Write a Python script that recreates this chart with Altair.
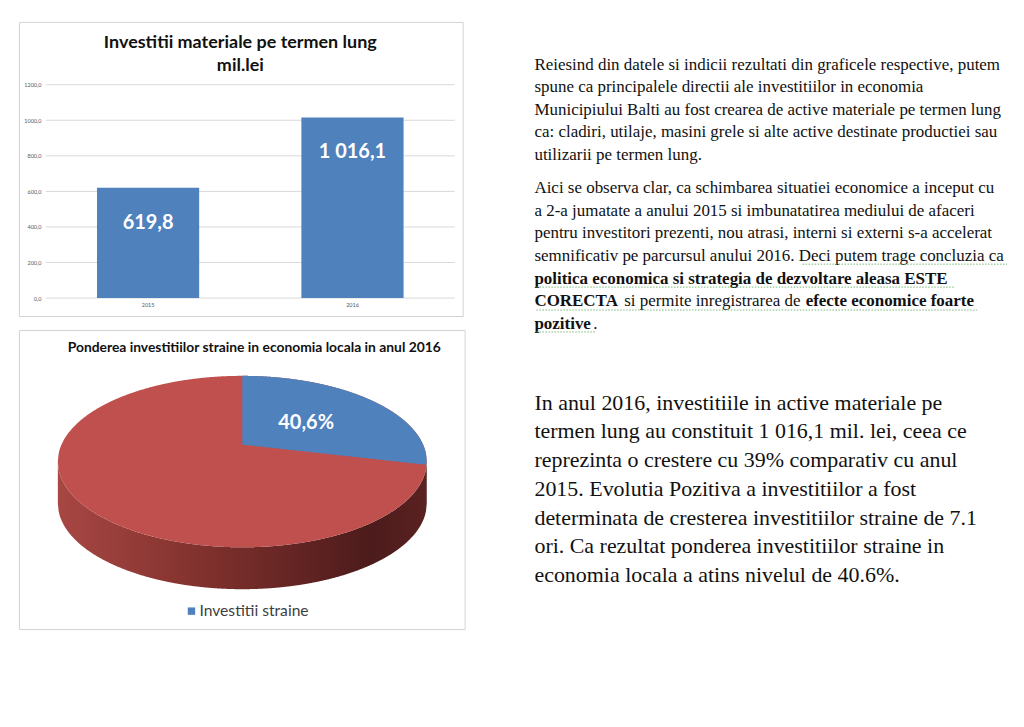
import math
import altair as alt
import pandas as pd

# ---------------- data ----------------
years = ["2015", "2016"]
invest_values = [619.8, 1016.1]
invest_labels = ["619,8", "1 016,1"]
y_ticks = [0, 200, 400, 600, 800, 1000, 1200]
bar_title = ["Investitii materiale pe termen lung", "mil.lei"]

pie_title = "Ponderea investitiilor straine in economia locala in anul 2016"
legend_labels = ["Investitii straine"]
pie_value_label = "40,6%"
# share of the disc that each slice occupies as drawn in the picture (blue, red)
pie_drawn_share = [25.6, 74.4]

para1 = [
    "Reiesind din datele si indicii rezultati din graficele respective, putem",
    "spune ca principalele directii ale investitiilor in economia",
    "Municipiului Balti au fost crearea de active materiale pe termen lung",
    "ca: cladiri, utilaje, masini grele si alte active destinate productiei sau",
    "utilizarii pe termen lung.",
]
para2 = [
    "Aici se observa clar, ca schimbarea situatiei economice a inceput cu",
    "a 2-a jumatate a anului 2015 si imbunatatirea mediului de afaceri",
    "pentru investitori prezenti, nou atrasi, interni si externi  s-a accelerat",
    "semnificativ pe parcursul anului 2016. Deci putem trage concluzia ca",
]
para2_bold_line = "politica economica si strategia de dezvoltare aleasa ESTE"
para2_line6 = ["CORECTA", "si permite inregistrarea de", "efecte economice foarte"]
para2_line7 = ["pozitive", "."]
para3 = [
    "In anul 2016, investitiile in active materiale pe",
    "termen lung au constituit 1 016,1 mil. lei, ceea ce",
    "reprezinta o crestere cu 39% comparativ cu anul",
    "2015. Evolutia Pozitiva a investitiilor a fost",
    "determinata de cresterea investitiilor straine de 7.1",
    "ori. Ca rezultat ponderea investitiilor straine in",
    "economia locala a atins nivelul de 40.6%.",
]

# ---------------- styles ----------------
BLUE = "#4f81bd"
RED = "#c0504d"
SANS = "Lato"
SERIF = "Liberation Serif"
BOX = alt.ViewBackground(stroke="#d3d3d3", strokeWidth=1)
NOBOX = alt.ViewBackground(stroke="transparent")
one = pd.DataFrame({"k": [0]})

# ---------------- bar chart ----------------
bar_df = pd.DataFrame({"year": years, "value": invest_values, "label": invest_labels})
yscale = alt.Scale(domain=[0, 1200], range=[277, 63], nice=False, zero=True)
xscale = alt.Scale(domain=years, range=[27, 437], paddingInner=0.5, paddingOuter=0.25)
y_axis = alt.Axis(
    values=y_ticks,
    labelExpr="replace(format(datum.value, '.1f'), '.', ',')",
    labelFontSize=5.5, labelColor="#595959", labelFont=SANS,
    domain=False, ticks=False, grid=False, offset=-27, labelPadding=5, title=None,
)
x_axis = alt.Axis(
    labelFontSize=5.5, labelColor="#595959", labelFont=SANS, labelAngle=0,
    domain=False, ticks=False, grid=False, offset=-18, labelPadding=4, title=None,
)

grid = alt.Chart(pd.DataFrame({"v": y_ticks})).mark_rule(color="#d9d9d9", strokeWidth=1).encode(
    y=alt.Y("v:Q", scale=yscale, axis=y_axis),
    x=alt.value(27), x2=alt.value(437),
)
bars = alt.Chart(bar_df).mark_bar(color=BLUE).encode(
    x=alt.X("year:N", scale=xscale, axis=x_axis, sort=years),
    y=alt.Y("value:Q", scale=yscale, axis=y_axis),
)
bar_text = alt.Chart(bar_df).mark_text(
    color="white", font=SANS, fontWeight="bold", fontSize=20, baseline="middle", dy=35
).encode(
    x=alt.X("year:N", scale=xscale, axis=x_axis, sort=years),
    y=alt.Y("value:Q", scale=yscale, axis=y_axis),
    text="label:N",
)
bar_ttl = alt.Chart(one).mark_text(
    font=SANS, fontWeight="bold", fontSize=18, color="#111111", align="center",
    baseline="middle", lineHeight=23,
).encode(x=alt.value(222), y=alt.value(21), text=alt.value(bar_title))

bar_chart = alt.layer(grid, bars, bar_text, bar_ttl).properties(width=445, height=295, view=BOX)

# ---------------- 3-D pie ----------------
end_ang = math.radians(90 - pie_drawn_share[0] * 3.6)
rim_x, rim_y = math.cos(end_ang), math.sin(end_ang)
depth_u = 42 / 86
apex_y = 17 / 86

xs = alt.Scale(domain=[-1, 1], range=[39, 409], nice=False, zero=False)
ys = alt.Scale(domain=[-1, 1], range=[218, 46], nice=False, zero=False)
ellipse_calc = "sqrt(max(0, 1 - datum.t * datum.t))"

side_grad = alt.LinearGradient(
    gradient="linear", x1=0, x2=1, y1=0, y2=0,
    stops=[
        alt.GradientStop(color="#a84744", offset=0),
        alt.GradientStop(color="#85332f", offset=0.35),
        alt.GradientStop(color="#4c1b1b", offset=0.85),
        alt.GradientStop(color="#5a2221", offset=1),
    ],
)
side = alt.Chart(alt.sequence(-1, 1.0001, 0.004, as_="t")).transform_calculate(
    s=ellipse_calc
).transform_calculate(
    ya="-datum.s", yb=f"-datum.s - {depth_u}"
).mark_area(color=side_grad, orient="vertical").encode(
    x=alt.X("t:Q", scale=xs, axis=None),
    y=alt.Y("ya:Q", scale=ys, axis=None),
    y2="yb:Q",
)
top = alt.Chart(alt.sequence(-1, 1.0001, 0.004, as_="t")).transform_calculate(
    s=ellipse_calc
).transform_calculate(
    ns="-datum.s"
).mark_area(color=RED, orient="vertical").encode(
    x=alt.X("t:Q", scale=xs, axis=None),
    y=alt.Y("s:Q", scale=ys, axis=None),
    y2="ns:Q",
)
blue = alt.Chart(alt.sequence(0, 1.0001, 0.0025, as_="t")).transform_calculate(
    s=ellipse_calc
).transform_calculate(
    lo=f"datum.t <= {rim_x} ? {apex_y} + ({rim_y} - {apex_y}) * datum.t / {rim_x} : -datum.s"
).mark_area(color=BLUE, orient="vertical").encode(
    x=alt.X("t:Q", scale=xs, axis=None),
    y=alt.Y("s:Q", scale=ys, axis=None),
    y2="lo:Q",
)
pie_lbl = alt.Chart(one).mark_text(
    font=SANS, fontWeight="bold", fontSize=20, color="white", align="center", baseline="middle"
).encode(x=alt.value(288), y=alt.value(93), text=alt.value(pie_value_label))
pie_ttl = alt.Chart(one).mark_text(
    font=SANS, fontWeight="bold", fontSize=13.9, color="#111111", align="center", baseline="middle"
).encode(x=alt.value(236), y=alt.value(18), text=alt.value(pie_title))
leg_sym = alt.Chart(pd.DataFrame({"name": legend_labels})).mark_square(
    color=BLUE, size=55, opacity=1
).encode(x=alt.value(173), y=alt.value(282))
leg_txt = alt.Chart(pd.DataFrame({"name": legend_labels})).mark_text(
    font=SANS, fontSize=15.7, color="#404040", align="left", baseline="middle"
).encode(x=alt.value(181), y=alt.value(282), text="name:N")

pie_chart = alt.layer(side, top, blue, pie_lbl, pie_ttl, leg_sym, leg_txt).properties(
    width=447, height=300, view=BOX
)

# ---------------- text column ----------------
LH = 22.6
FS = 17


def block(lines, y, size=FS, lh=LH, weight="normal", x=-2):
    return alt.Chart(one).mark_text(
        font=SERIF, fontSize=size, fontWeight=weight, color="#111111",
        align="left", baseline="middle", lineHeight=lh,
    ).encode(x=alt.value(x), y=alt.value(y), text=alt.value(lines))


def squiggle(x1, x2, y):
    # proofing underline shown under some words in the document
    return alt.Chart(one).mark_rule(
        color="#5fae5f", strokeWidth=1, strokeDash=[1.5, 1.5], opacity=0.85
    ).encode(x=alt.value(x1), x2=alt.value(x2), y=alt.value(y))


texts = [
    block(para1, 43),
    block(para2, 167),
    block(para2_bold_line, 258, weight="bold"),
    block(para2_line6[0], 280, weight="bold"),
    block(para2_line6[1], 280, x=88),
    block(para2_line6[2], 280, weight="bold", x=270),
    block(para2_line7[0], 303, weight="bold"),
    block(para2_line7[1], 303, x=57),
    block(para3, 382, size=22, lh=28.8),
    squiggle(267, 472, 243),
    squiggle(0, 419, 266),
    squiggle(0, 442, 289),
    squiggle(0, 60, 311),
]
text_chart = alt.layer(*texts).properties(width=480, height=600, view=NOBOX)

left = alt.vconcat(bar_chart, pie_chart, spacing=12)
chart = alt.hconcat(left, text_chart, spacing=68).properties(
    padding={"left": 10, "top": 12, "right": 0, "bottom": 0}
)

chart.save("out.html", embed_options={"renderer": "svg", "actions": False})
